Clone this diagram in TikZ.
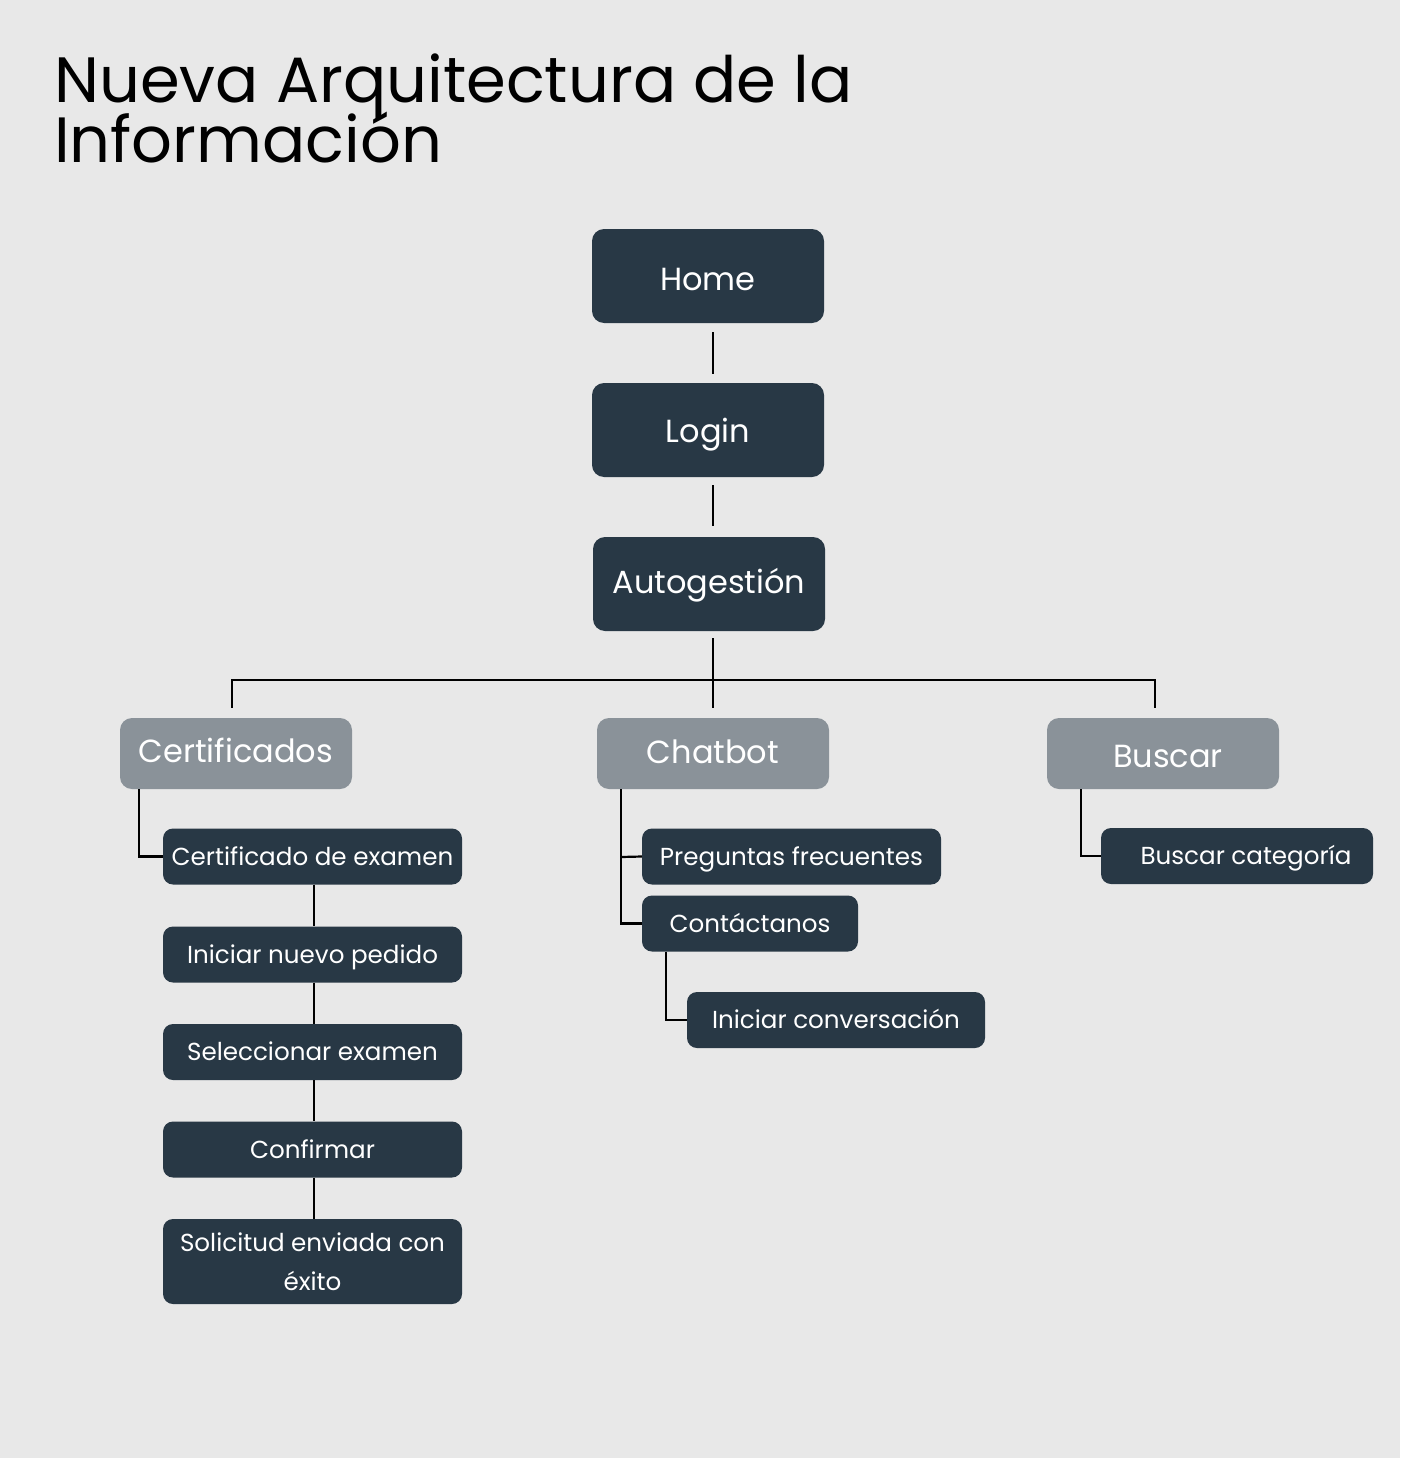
\documentclass[tikz,border=0pt]{standalone}
\usepackage{fontspec}
\setmainfont{Poppins}
\definecolor{bg}{HTML}{E8E8E8}
\definecolor{dark}{HTML}{283845}
\definecolor{mid}{HTML}{8A9299}
\tikzset{
  bigbox/.style={fill=dark, rounded corners=12pt, minimum width=232pt, minimum height=94pt, text=white, font=\fontsize{32}{36}\selectfont, inner sep=0pt, text height=28pt, text depth=4pt},
  catbox/.style={fill=mid, rounded corners=12pt, minimum width=232pt, minimum height=71pt, text=white, font=\fontsize{32}{36}\selectfont, inner sep=0pt, text height=21pt, text depth=4pt},
  smallbox/.style={fill=dark, rounded corners=10pt, minimum height=56pt, text=white, font=\fontsize{24.6}{39}\selectfont, inner sep=0pt, align=center, text height=21pt, text depth=4pt},
  link/.style={draw=black, line width=2.2pt},
  titletext/.style={font=\fontsize{64}{60}\selectfont, text=black, inner sep=0pt, anchor=base west}
}
\begin{document}
\begin{tikzpicture}[x=1pt,y=-1pt]
\fill[bg] (0,0) rectangle (1400,1458);
\useasboundingbox (0,0) rectangle (1400,1458);
% title
\node[titletext] (t1) at (54,103) {Nueva Arquitectura de la};
\node[titletext] (t2) at (54,163) {Información};
% main column
\node[bigbox, text height=32pt] (home) at (708,276) {Home};
\node[bigbox] (login) at (708,430) {Login};
\node[bigbox, text height=22pt] (auto) at (709,584) {Autogestión};
% categories
\node[catbox] (cert) at (236,753.5) {Certificados};
\node[catbox, text height=23pt] (chat) at (713,753.5) {Chatbot};
\node[catbox, text height=31pt] (busc) at (1163,753.5) {\hspace{10pt}Buscar};
% certificados column
\node[smallbox, minimum width=299pt] (ce) at (312.5,856.5) {Certificado de examen};
\node[smallbox, minimum width=299pt] (inp) at (312.5,954.5) {Iniciar nuevo pedido};
\node[smallbox, minimum width=299pt] (sel) at (312.5,1052) {Seleccionar examen};
\node[smallbox, minimum width=299pt] (conf) at (312.5,1149.5) {Confirmar};
\node[smallbox, minimum width=299pt, minimum height=85pt, text height=, text depth=] (sol) at (312.5,1261.5) {Solicitud enviada con\\éxito};
% chatbot column
\node[smallbox, minimum width=299pt] (pf) at (791.5,856.5) {Preguntas frecuentes};
\node[smallbox, minimum width=216pt] (cont) at (750,923.5) {Contáctanos};
\node[smallbox, minimum width=298pt] (ic) at (836,1020) {Iniciar conversación};
% buscar column
\node[smallbox, minimum width=272pt] (bc) at (1237,856) {\hspace{18pt}Buscar categoría};
% connectors
\draw[link] ([yshift=-9pt]home.south -| 713,0) -- ([yshift=9pt]login.north -| 713,0);
\draw[link] ([yshift=-8pt]login.south -| 713,0) -- ([yshift=11pt]auto.north -| 713,0);
\draw[link] ([yshift=-7pt]auto.south -| 713,0) -- ([yshift=10pt]chat.north -| 713,0);
\draw[link] ([yshift=10pt]cert.north -| 232,0) -- (232,680) -- (1155,680) -- ([yshift=10pt]busc.north -| 1155,0);
\draw[link] (cert.south -| 139,0) |- (ce.west);
\draw[link] (ce.south -| 314,0) -- (inp.north -| 314,0);
\draw[link] (inp.south -| 314,0) -- (sel.north -| 314,0);
\draw[link] (sel.south -| 314,0) -- (conf.north -| 314,0);
\draw[link] (conf.south -| 314,0) -- (sol.north -| 314,0);
\draw[link] (chat.south -| 621,0) |- (cont.west);
\draw[link] (621,857) -- (pf.west);
\draw[link] (cont.south -| 666,0) |- (ic.west);
\draw[link] (busc.south -| 1081,0) |- (bc.west);
\end{tikzpicture}
\end{document}
